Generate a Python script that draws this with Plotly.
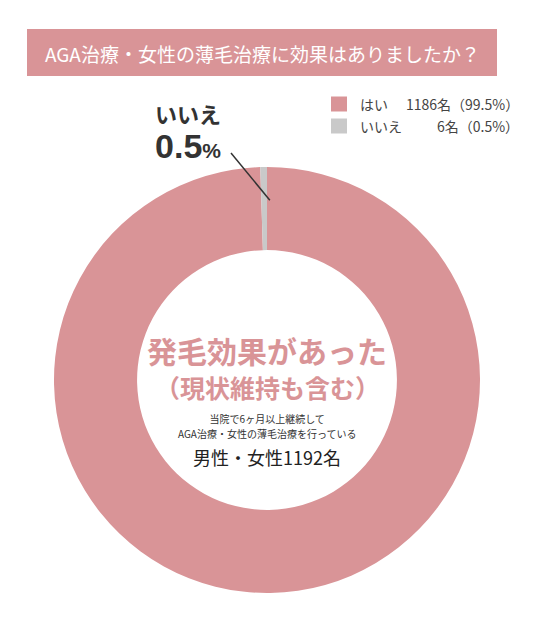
import math
import plotly.graph_objects as go

W, H = 538, 619

# data
labels = ["はい", "いいえ"]
counts = [1186, 6]
colors = ["#d99497", "#c9c9c9"]
title_text = "AGA治療・女性の薄毛治療に効果はありましたか？"
center_main = ["発毛効果があった", "（現状維持も含む）"]
center_note = ["当院で6ヶ月以上継続して", "AGA治療・女性の薄毛治療を行っている"]
total = sum(counts)

FONT = "Noto Sans CJK JP"
PINK = "#d99497"
DARK = "#333333"

# pie geometry (pixels)
CX, CY, R = 267, 380, 213
HOLE = 0.61


def px(x):
    return x / W


def py(y):
    return 1 - y / H


def label(text, x, y, size, color=DARK, xanchor="center"):
    return dict(text=text, x=px(x), y=py(y), xref="paper", yref="paper",
                xanchor=xanchor, yanchor="middle", showarrow=False,
                font=dict(family=FONT, size=size, color=color))


fig = go.Figure(
    go.Pie(
        labels=labels,
        values=counts,
        hole=HOLE,
        sort=False,
        direction="counterclockwise",
        rotation=0,
        marker=dict(colors=colors, line=dict(width=0)),
        textinfo="none",
        hoverinfo="label+value+percent",
        showlegend=False,
        domain=dict(x=[px(CX - R), px(CX + R)], y=[py(CY + R), py(CY - R)]),
    )
)

shapes = []
annotations = []

# title band
shapes.append(dict(type="rect", xref="paper", yref="paper",
                   x0=px(27), x1=px(497), y0=py(76), y1=py(29),
                   fillcolor=PINK, line=dict(width=0), layer="below"))
annotations.append(label(title_text, 262, 53, 19, "white"))

# custom legend
for i, (lab, c, col) in enumerate(zip(labels, counts, colors)):
    yc = 104 + i * 22
    shapes.append(dict(type="rect", xref="paper", yref="paper",
                       x0=px(331), x1=px(347), y0=py(yc + 7.5), y1=py(yc - 7.5),
                       fillcolor=col, line=dict(width=0)))
    annotations.append(label(lab, 358, yc, 14, "#444444", xanchor="left"))
    pct = c / total * 100
    annotations.append(label(f"{c}名（{pct:.1f}%）", 521, yc, 14, "#444444",
                             xanchor="right"))

# callout for the small slice
no_pct = counts[1] / total * 100
mid_frac = 1 - (counts[1] / 2) / total  # counterclockwise from 12 o'clock
ang = math.pi / 2 + 2 * math.pi * mid_frac
r_in = R * (HOLE + (1 - HOLE) * 0.6)
ex, ey = CX + r_in * math.cos(ang), CY - r_in * math.sin(ang)
shapes.append(dict(type="line", xref="paper", yref="paper",
                   x0=px(231), y0=py(153), x1=px(ex), y1=py(ey),
                   line=dict(color=DARK, width=1.5)))
annotations.append(label(
    f"<b><span style='font-size:22px'>{labels[1]}</span><br>"
    f"<span style='font-family:Liberation Sans;font-size:34px'>{no_pct:.1f}</span>"
    f"<span style='font-family:Liberation Sans;font-size:21px'>%</span></b>",
    188, 131, 27))

# center texts
annotations.append(label(f"<b>{center_main[0]}</b>", CX, 350, 30, PINK))
annotations.append(label(f"<b>{center_main[1]}</b>", CX, 387, 25, PINK))
annotations.append(label(
    "<br>".join(f"<span style='font-size:10px'>{t}</span>" for t in center_note),
    CX, 426, 11.2))
annotations.append(label(f"男性・女性{total}名", CX, 457, 18, "#222222"))

fig.update_layout(
    width=W,
    height=H,
    margin=dict(l=0, r=0, t=0, b=0),
    paper_bgcolor="white",
    plot_bgcolor="white",
    shapes=shapes,
    annotations=annotations,
)

fig.write_html("out.html", config={"displayModeBar": False},
               post_script="document.body.style.margin = '0';")
